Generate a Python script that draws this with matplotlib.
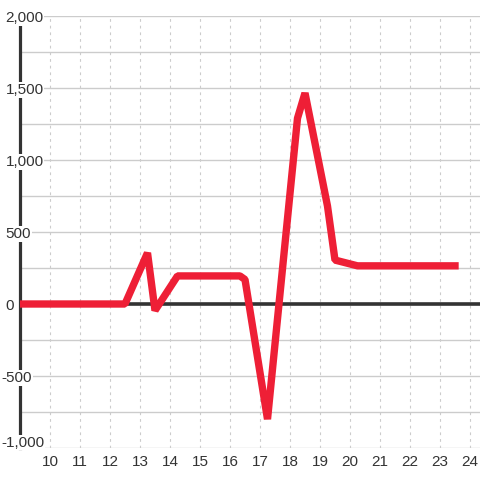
import matplotlib.pyplot as plt
import numpy as np

plt.rcParams['font.family'] = ['Liberation Sans', 'DejaVu Sans']

# data
x_vals = [9, 12.5, 13.25, 13.5, 14.25, 16.33, 16.5, 17.25, 18.25, 18.5, 19.25, 19.5, 20.25, 23.5]
y_vals = [0, 0, 355, -45, 195, 195, 170, -800, 1290, 1465, 680, 305, 265, 265]

x_ticks = list(range(10, 25))
y_ticks = [-1000, -500, 0, 500, 1000, 1500, 2000]
y_grid = np.arange(-1000, 2001, 250)

W, H = 480, 480
PX_X = 30.0      # pixels per x unit
PX_Y = 0.144     # pixels per y unit

fig = plt.figure(figsize=(W / 100, H / 100), dpi=100)
ax = fig.add_axes([20 / W, (H - 448) / H, 460 / W, (448 - 16) / H])
ax.set_xlim(9, 9 + 460 / PX_X)
ax.set_ylim(-1000, 2000)
for s in ax.spines.values():
    s.set_visible(False)
ax.set_xticks([])
ax.set_yticks([])

grid_c = '#cccccc'
text_c = '#333333'
dark = '#333333'

# grid
for g in y_grid:
    ax.axhline(g, color=grid_c, lw=1, zorder=1)
for t in x_ticks:
    ax.axvline(t, color=grid_c, lw=0.8, ls=(0, (2.5, 3.5)), zorder=1)

# zero line and left axis line
ax.axhline(0, color=dark, lw=2.6, zorder=2)
ax.axvline(9, color=dark, lw=2.3, zorder=2, clip_on=False)

# y labels, white boxes knock out the grid and axis line
for t in y_ticks:
    left_px = 1.5 if t < 0 else 5.5
    if t == -1000:
        base = t + 1.3 / PX_Y
    else:
        base = t - 6 / PX_Y
    ax.text(9 + (left_px - 20) / PX_X, base, f"{t:,}", fontsize=11, color=text_c,
            ha='left', va='baseline', zorder=4, clip_on=False,
            bbox=dict(facecolor='white', edgecolor='none', pad=0.6))

ax.plot(x_vals, y_vals, color='#ee1f36', lw=5.3, solid_joinstyle='bevel',
        solid_capstyle='projecting', zorder=5)

for t in x_ticks:
    ax.text(t, -1000 - 18 / PX_Y, str(t), fontsize=11, color=text_c,
            ha='center', va='baseline', clip_on=False)

fig.savefig('out.png', dpi=100)
